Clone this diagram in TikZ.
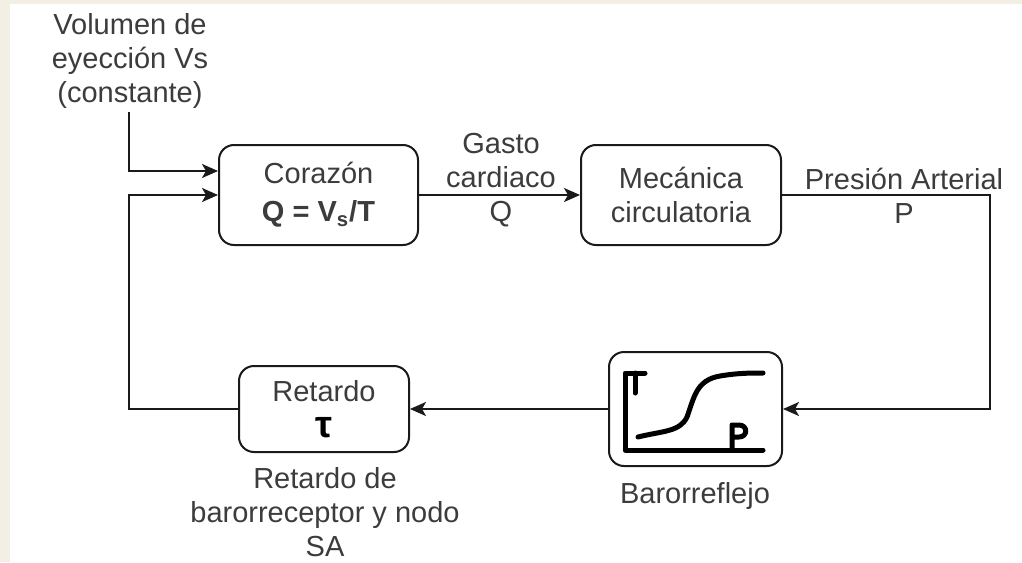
\documentclass[tikz,border=0pt]{standalone}
\usepackage{fontspec}
\setmainfont{Liberation Sans}
\usetikzlibrary{arrows.meta,calc}
\definecolor{linec}{RGB}{26,26,26}
\definecolor{txtc}{RGB}{60,60,60}
\definecolor{cream}{RGB}{243,239,229}
\newcommand{\lblfont}{\fontsize{14.5}{17}\selectfont}
\tikzset{
  box/.style={draw=linec, line width=1pt, rounded corners=7.5pt, fill=white, align=center,
    inner sep=0pt, font=\lblfont, text=txtc},
  lbl/.style={align=center, text=txtc, font=\lblfont, inner sep=0pt},
  arr/.style={line width=1pt, draw=linec, -{Stealth[length=8pt,width=7pt,inset=2pt]}},
  conn/.style={line width=1pt, draw=linec},
  sketch/.style={line width=2.5pt, draw=black, line cap=round, line join=round}
}
\begin{document}
\begin{tikzpicture}[x=0.5pt,y=-0.5pt]
\useasboundingbox (0,0) rectangle (1022,562);
\fill[white] (0,0) rectangle (1022,562);
\fill[cream] (0,0) rectangle (1022,4);
\fill[cream] (0,0) rectangle (10,562);

% boxes
\node[box, minimum width=99.5pt, minimum height=50pt] (cor) at (318.5,195) {Corazón\\[2pt]\textbf{Q = V\textsubscript{s}/T}};
\node[box, minimum width=100pt, minimum height=50pt] (mec) at (681,195) {Mecánica\\circulatoria};
\node[box, minimum width=86.5pt, minimum height=57pt] (baro) at (695.5,409) {};
\node[box, minimum width=85pt, minimum height=43pt] (ret) at (324,409) {Retardo\\[1pt]{\fontsize{19}{17}\selectfont\textbf{\color{black}τ}}};

% labels (anchor=base is the baseline of the last line)
\node[lbl, anchor=base] (vs) at (130,102) {Volumen de\\eyección Vs\\(constante)};
\node[lbl, anchor=base] (gasto) at (501,221) {Gasto\\cardiaco\\Q};
\node[lbl, anchor=base] (pres) at (904,223) {Presión Arterial\\P};
\node[lbl, anchor=base] (barolbl) at (695,503) {Barorreflejo};
\node[lbl, anchor=base] (retlbl) at (325,556) {Retardo de\\barorreceptor y nodo\\SA};

% sketch inside Barorreflejo
\draw[sketch] (645,373) -- (625,373) -- (625,450) -- (763,450);
\draw[sketch] (635,373) -- (635,393);
\draw[sketch] (638,437) .. controls (662,431) and (680,432) .. (687,417)
  .. controls (694,398) and (696,380) .. (720,376)
  .. controls (738,373) and (750,373) .. (763,373);
\draw[sketch] (732,450) -- (732,425) -- (739,425) .. controls (748,425) and (748,437) .. (739,437) -- (732,437);

% connectors
\coordinate (vstop) at (129,112);
\coordinate (fbc) at (129,409);
\coordinate (pc) at (990,195);
\draw[arr] (vstop) |- ($(cor.west)+(0,-24)$);
\draw[arr] (ret.west) -- (fbc) |- (cor.west);
\draw[arr] (cor.east) -- (mec.west);
\draw[arr] (mec.east) -- (pc) |- (baro.east);
\draw[arr] (baro.west) -- (ret.east);
\end{tikzpicture}
\end{document}
